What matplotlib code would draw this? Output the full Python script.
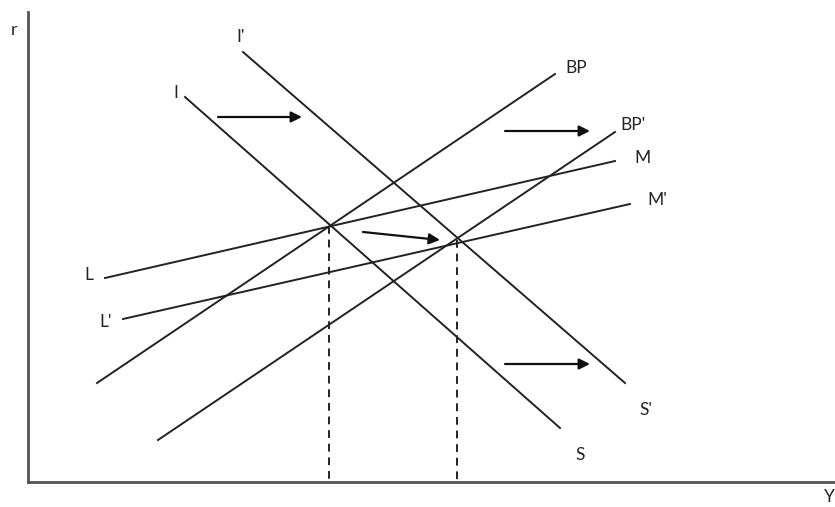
import matplotlib.pyplot as plt

# схема IS-LM-BP, координаты в пикселях картинки (y вниз)
is_x = [185, 560]
is_y = [97, 428]
is2_x = [243, 625]
is2_y = [52, 383]
bp_x = [97, 555]
bp_y = [383, 74]
bp2_x = [158, 615]
bp2_y = [440, 132]
lm_x = [105, 615]
lm_y = [278, 161]
lm2_x = [123, 630]
lm2_y = [319, 204]

eq_x = [329, 457]
eq_y = [226, 240]

# подписи: текст, x, y
labels = [("I", 176, 93), ("S", 580, 455), ("I'", 241, 37), ("S'", 646, 410),
          ("BP", 576, 68), ("BP'", 633, 125), ("L", 89, 275), ("M", 643, 158),
          ("L'", 106, 322), ("M'", 657, 200), ("r", 14, 30), ("Y", 829, 497)]

# стрелки: начало и конец
arrows = [((218, 117), (302, 117)), ((505, 131), (590, 131)),
          ((505, 364), (590, 364)), ((363, 232), (440, 240))]

x0 = 28
y0 = 482

fig = plt.figure(figsize=(8.35, 5.07), dpi=100)
ax = fig.add_axes([0, 0, 1, 1])
ax.set_xlim(0, 835)
ax.set_ylim(507, 0)
ax.axis('off')

ax.plot([x0, x0], [12, y0], color='#555555', lw=2)
ax.plot([x0, 835], [y0, y0], color='#555555', lw=2)

for xs, ys in [(is_x, is_y), (is2_x, is2_y), (bp_x, bp_y), (bp2_x, bp2_y),
               (lm_x, lm_y), (lm2_x, lm2_y)]:
    ax.plot(xs, ys, color='#222222', lw=1.4)

for ex, ey in zip(eq_x, eq_y):
    ax.plot([ex, ex], [ey, y0], color='#222222', lw=1.4, ls=(0, (4, 3)))

for (sx, sy), (ex, ey) in arrows:
    ax.annotate('', xy=(ex, ey), xytext=(sx, sy),
                arrowprops=dict(arrowstyle='-|>', color='#111111', lw=1.6,
                                mutation_scale=16, shrinkA=0, shrinkB=0))

for t, lx, ly in labels:
    ax.text(lx, ly, t, fontsize=12.5, family='Lato', ha='center', va='center',
            color='#222222')

fig.savefig('out.png', dpi=100)
